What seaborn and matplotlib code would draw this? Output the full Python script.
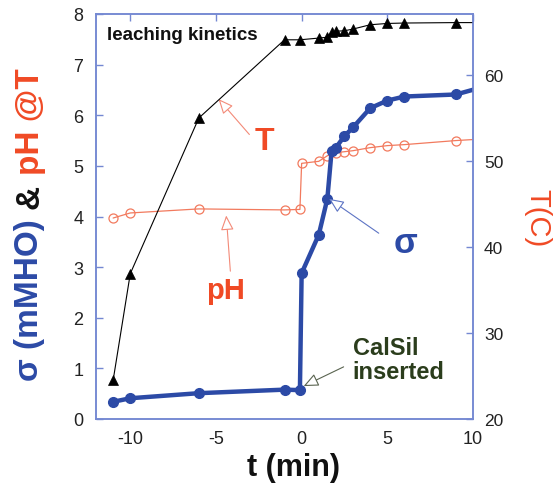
import matplotlib
matplotlib.use("Agg")
import matplotlib.pyplot as plt
import seaborn as sns

# ---------------- data ----------------
t_sigma = [-11, -10, -6, -1, -0.1, 0, 1, 1.5, 1.75, 2, 2.5, 3, 4, 5, 6, 9, 10.5]
sigma = [0.34, 0.41, 0.51, 0.58, 0.57, 2.88, 3.64, 4.35, 5.30, 5.36, 5.59, 5.76, 6.14, 6.29, 6.37, 6.41, 6.55]

t_ph = [-11, -10, -6, -1, -0.1, 0, 1, 1.5, 2, 2.5, 3, 4, 5, 6, 9, 10.5]
ph = [3.97, 4.07, 4.15, 4.13, 4.14, 5.05, 5.09, 5.20, 5.26, 5.28, 5.30, 5.36, 5.40, 5.42, 5.50, 5.53]

t_T = [-11, -10, -6, -1, -0.1, 1, 1.5, 1.75, 2, 2.5, 3, 4, 5, 6, 9, 10.5]
temp = [24.5, 36.9, 55.0, 64.1, 64.1, 64.3, 64.4, 65.0, 65.1, 65.15, 65.35, 65.85, 66.0, 66.05, 66.1, 66.1]

x_ticks = [-10, -5, 0, 5, 10]
left_ticks = [0, 1, 2, 3, 4, 5, 6, 7, 8]
right_ticks = [20, 30, 40, 50, 60]

# ---------------- style ----------------
sns.set_theme(style="white")
plt.rcParams["font.family"] = ["Liberation Sans", "DejaVu Sans"]

BLUE = "#2c4aa6"
PH_C = "#f27a5e"
RED = "#f04a25"
SPINE = "#7488d2"
GREEN = "#2b3d1c"

W, H = 556, 489
fig = plt.figure(figsize=(W / 100, H / 100), dpi=100)
fig.patch.set_facecolor("white")
ax = fig.add_axes([96 / W, 1 - 420 / H, (473 - 96) / W, (420 - 15) / H])
ax2 = ax.twinx()

sns.lineplot(x=t_ph, y=ph, ax=ax, estimator=None, sort=False, color=PH_C,
             lw=0.9, marker="o", markersize=6.5, markerfacecolor="none",
             markeredgecolor=PH_C, markeredgewidth=0.9, zorder=2)
sns.lineplot(x=t_sigma, y=sigma, ax=ax, estimator=None, sort=False, color=BLUE,
             lw=3.2, marker="o", markersize=7, markerfacecolor=BLUE,
             markeredgecolor=BLUE, markeredgewidth=1, zorder=3)
sns.lineplot(x=t_T, y=temp, ax=ax2, estimator=None, sort=False, color="black",
             lw=0.8, marker="^", markersize=7.5, markerfacecolor="black",
             markeredgecolor="black", markeredgewidth=0.5)

ax.set_xlim(-12, 10)
ax.set_ylim(0, 8)
ax2.set_ylim(20, 67.1)
ax.set_xticks(x_ticks)
ax.set_xticklabels([str(v) for v in x_ticks])
ax.set_yticks(left_ticks)
ax2.set_yticks(right_ticks)
ax.set_xlabel("")
ax.set_ylabel("")
ax2.set_ylabel("")

for a in (ax, ax2):
    for s in a.spines.values():
        s.set_color(SPINE)
        s.set_linewidth(1.1)
    a.set_facecolor("none")
ax.tick_params(axis="both", direction="in", length=5, width=1, color=SPINE,
               labelsize=13, labelcolor="#222222")
ax.tick_params(axis="x", top=True, pad=8)
ax.tick_params(axis="y", left=True, right=False, pad=9)
ax2.tick_params(axis="y", direction="in", length=5, width=1, color=SPINE,
                labelsize=12.5, labelcolor="#222222", right=True, pad=8)

# ---------------- annotations ----------------
def arrow(head, tail, color, lw=0.8):
    ax.annotate("", xy=head, xytext=tail,
                arrowprops=dict(arrowstyle="-|>,head_length=0.5,head_width=0.22",
                                fc="white", ec=color, lw=lw, shrinkA=0, shrinkB=0,
                                mutation_scale=18), zorder=5)

ax.text(-11.35, 7.59, "leaching kinetics", fontsize=13.5, fontweight="bold",
        color="#111111", va="center", ha="left")

ax.text(-2.17, 5.5, "T", fontsize=23, fontweight="bold", color=RED,
        ha="center", va="center")
arrow((-4.85, 6.32), (-3.05, 5.62), "#f38a78")

ax.text(-4.45, 2.55, "pH", fontsize=21, fontweight="bold", color=RED,
        ha="center", va="center")
arrow((-4.4, 4.02), (-4.16, 2.92), "#f38a78")

ax.text(6.07, 3.48, "σ", fontsize=25, fontweight="bold", color=BLUE,
        ha="center", va="center")
arrow((1.6, 4.35), (4.5, 3.67), "#5d74c4")

ax.text(2.97, 1.18, "CalSil\ninserted", fontsize=17, fontweight="bold",
        color=GREEN, ha="left", va="center", linespacing=1.05)
arrow((0.12, 0.65), (2.45, 1.03), "#5a6450")

# ---------------- axis labels ----------------
fig.text(293 / W, 1 - 468 / H, "t (min)", fontsize=22, fontweight="bold",
         color="#111111", ha="center", va="center")
fig.text(537 / W, 1 - 218 / H, "T(C)", fontsize=21, color=RED,
         rotation=-90, ha="center", va="center")

renderer = fig.canvas.get_renderer()
pieces = [("σ (mMHO)", BLUE), ("&", "#111111"), ("pH @T", RED)]
y_px = H - 381  # from bottom
x_px = 30
gap = 10
for txt, col in pieces:
    tt = fig.text(x_px / W, y_px / H, txt, fontsize=24, fontweight="bold",
                  color=col, rotation=90, ha="center", va="bottom")
    bb = tt.get_window_extent(renderer)
    y_px = bb.y1 + gap

fig.savefig("out.png", dpi=100, facecolor="white")
